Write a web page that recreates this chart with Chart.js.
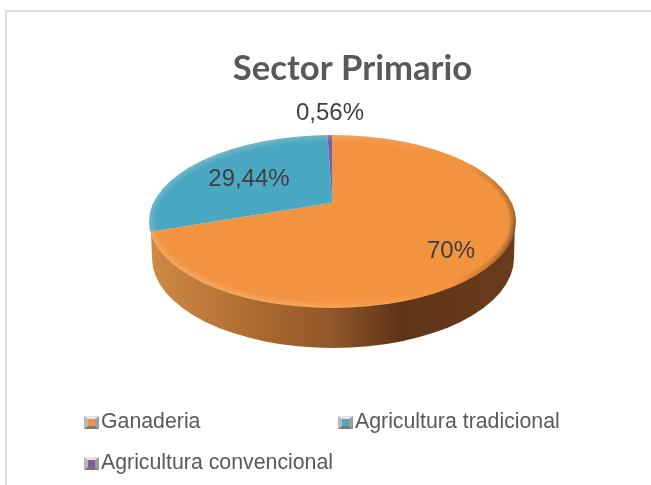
<!DOCTYPE html>
<html>
<head>
<meta charset="utf-8">
<script src="https://cdn.jsdelivr.net/npm/chart.js@4"></script>
<style>
    html, body { margin: 0; padding: 0; background: #fff; overflow: hidden; }
    canvas { display: block; }
</style>
</head>
<body>
<canvas id="sector_pie" width="651" height="485"></canvas>
<script>
var categories = ["Ganaderia", "Agricultura tradicional", "Agricultura convencional"];
var values = [70, 29.44, 0.56];
var valueLabels = ["70%", "29,44%", "0,56%"];
var colors = ["#f29340", "#4aa8c3", "#7b5ca5"];
var chartTitle = "Sector Primario";

// hand placed, the reference puts them wherever it likes
var labelSpots = [[451, 251], [249, 179], [330, 113]];
var legendSpots = [[84, 416], [338, 416], [84, 457]];

// top face of the pie: ellipse plus the apex, which sits above the ellipse centre
var face = { cx: 332.5, cy: 221.5, rx: 183.5, ry: 86.5, apexX: 332.3, apexY: 202.8, squash: 0.49 };
// the lower rim of the wall is a slightly smaller ellipse
var rim = { cx: 333, cy: 258, rx: 181, ry: 90 };

function facePath(ctx, inset) {
    ctx.beginPath();
    ctx.ellipse(face.cx, face.cy, face.rx - (inset || 0), face.ry - (inset || 0), 0, 0, Math.PI * 2);
}

function drawWall(ctx) {
    var grad = ctx.createLinearGradient(face.cx - face.rx, 0, face.cx + face.rx, 0);
    grad.addColorStop(0, "#d08a44");
    grad.addColorStop(0.3, "#ab6a30");
    grad.addColorStop(0.5, "#90562a");
    grad.addColorStop(0.68, "#5f3518");
    grad.addColorStop(1, "#683c1c");
    ctx.save();
    ctx.fillStyle = grad;
    ctx.beginPath();
    ctx.ellipse(rim.cx, rim.cy, rim.rx, rim.ry, 0, 0, Math.PI);
    ctx.lineTo(face.cx - face.rx + 2, face.cy + 10);
    ctx.lineTo(face.cx + face.rx - 1, face.cy);
    ctx.closePath();
    ctx.fill();
    ctx.restore();
}

function drawBevel(ctx) {
    ctx.save();
    facePath(ctx);
    ctx.clip();
    var i;
    for (i = 0; i < 7; i++) {
        var a = (7 - i) / 7;
        var light = ctx.createLinearGradient(face.cx - face.rx, 0, face.cx + face.rx, 0);
        light.addColorStop(0, "rgba(255,255,255," + 0.16 * a + ")");
        light.addColorStop(0.5, "rgba(255,225,170," + 0.22 * a + ")");
        light.addColorStop(0.8, "rgba(255,225,170,0)");
        ctx.strokeStyle = light;
        ctx.lineWidth = 1.2;
        facePath(ctx, i);
        ctx.stroke();
        var dark = ctx.createRadialGradient(face.cx + face.rx, face.cy + 8, 0, face.cx + face.rx, face.cy + 8, 85);
        dark.addColorStop(0, "rgba(0,0,0," + 0.4 * a + ")");
        dark.addColorStop(1, "rgba(0,0,0,0)");
        ctx.strokeStyle = dark;
        facePath(ctx, i);
        ctx.stroke();
    }
    ctx.restore();
}

var pie3d = {
    id: "pie3d",
    beforeDatasetDraw: function (chart) {
        var ctx = chart.ctx;
        var arc = chart.getDatasetMeta(0).data[0];
        drawWall(ctx);
        ctx.save();
        facePath(ctx);
        ctx.clip();
        // library arcs are drawn squashed around the apex, the ellipse cuts them off
        var s = 2 * face.rx / arc.outerRadius;
        ctx.translate(face.apexX, face.apexY);
        ctx.scale(s, s * face.squash);
        ctx.translate(-arc.x, -arc.y);
    },
    afterDatasetDraw: function (chart) {
        chart.ctx.restore();
        drawBevel(chart.ctx);
    }
};

function drawTrap(ctx, color, pts) {
    ctx.fillStyle = color;
    ctx.beginPath();
    ctx.moveTo(pts[0], pts[1]);
    ctx.lineTo(pts[2], pts[3]);
    ctx.lineTo(pts[4], pts[5]);
    ctx.lineTo(pts[6], pts[7]);
    ctx.closePath();
    ctx.fill();
}

function drawMarker(ctx, x, y, color) {
    var w = 15, h = 13, m = 4;
    var r = x + w, b = y + h, il = x + m, ir = r - m, it = y + m - 1, ib = b - m + 1;
    drawTrap(ctx, "#e4e4e4", [x, y, r, y, ir, it, il, it]);
    drawTrap(ctx, "#b8b8b8", [x, y, il, it, il, ib, x, b]);
    drawTrap(ctx, "#9c9c9c", [r, y, ir, it, ir, ib, r, b]);
    drawTrap(ctx, "#7a7a7a", [x, b, il, ib, ir, ib, r, b]);
    ctx.fillStyle = color;
    ctx.fillRect(il, it, ir - il, ib - it);
}

var decorations = {
    id: "decorations",
    beforeDraw: function (chart) {
        var ctx = chart.ctx;
        ctx.save();
        ctx.fillStyle = "#dcdcdc";
        ctx.fillRect(5, 10, 646, 2);
        ctx.fillRect(5, 10, 2, 475);
        ctx.restore();
    },
    afterDraw: function (chart) {
        var ctx = chart.ctx;
        ctx.save();
        ctx.textBaseline = "middle";
        ctx.textAlign = "center";
        ctx.fillStyle = "#404040";
        ctx.font = "24px 'Liberation Sans'";
        valueLabels.forEach(function (txt, i) {
            ctx.fillText(txt, labelSpots[i][0], labelSpots[i][1]);
        });
        ctx.textAlign = "left";
        ctx.font = "21.3px 'Liberation Sans'";
        categories.forEach(function (txt, i) {
            var x = legendSpots[i][0], y = legendSpots[i][1];
            drawMarker(ctx, x, y, colors[i]);
            ctx.fillStyle = "#595959";
            ctx.fillText(txt, x + 17, y + 6);
        });
        ctx.restore();
    }
};

new Chart(document.getElementById("sector_pie").getContext("2d"), {
    type: "pie",
    data: {
        labels: categories,
        datasets: [{
            data: values,
            backgroundColor: colors,
            borderWidth: 0
        }]
    },
    options: {
        responsive: false,
        animation: false,
        layout: { padding: { left: 54, top: 0 } },
        plugins: {
            legend: { display: false },
            tooltip: { enabled: false },
            title: {
                display: true,
                text: chartTitle,
                color: "#595959",
                font: { family: "Lato", size: 34.7, weight: "bold" },
                padding: { top: 48, bottom: 10 }
            }
        }
    },
    plugins: [pie3d, decorations]
});
</script>
</body>
</html>
